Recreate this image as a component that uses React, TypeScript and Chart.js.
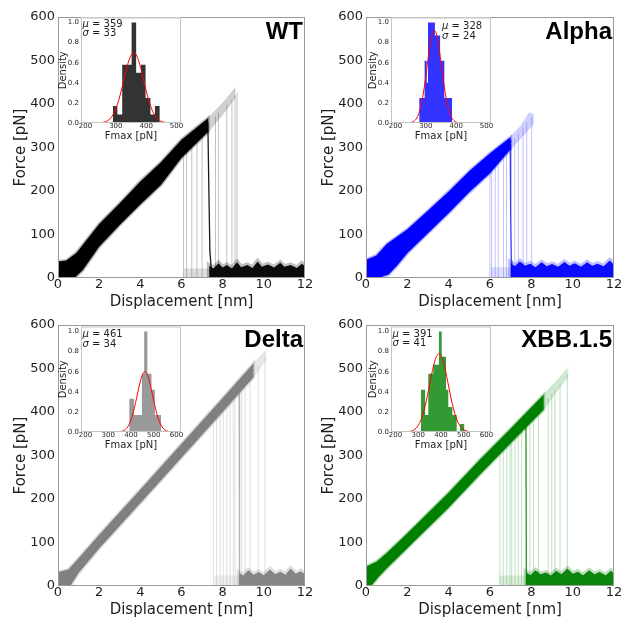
import React, { useEffect, useRef } from 'react';
import { Chart, registerables } from 'chart.js';

Chart.register(...registerables);

type P = [number, number];

// ---------- axes ----------
const X_TICKS = [0, 2, 4, 6, 8, 10, 12];
const Y_TICKS = [0, 100, 200, 300, 400, 500, 600];
const INSET_Y_TICKS = [0, 0.2, 0.4, 0.6, 0.8, 1.0];
const INSET_X_TICKS_500 = [200, 300, 400, 500];
const INSET_X_TICKS_600 = [200, 300, 400, 500, 600];
const FIT_X_500 = [200, 210, 220, 230, 240, 250, 260, 270, 280, 290, 300, 310, 320, 330, 340, 350, 360, 370, 380, 390, 400, 410, 420, 430, 440, 450, 460, 470, 480, 490, 500];
const FIT_X_600 = [200, 210, 220, 230, 240, 250, 260, 270, 280, 290, 300, 310, 320, 330, 340, 350, 360, 370, 380, 390, 400, 410, 420, 430, 440, 450, 460, 470, 480, 490, 500, 510, 520, 530, 540, 550, 560, 570, 580, 590, 600];

// ---------- WT ----------
const WT_BAND_TOP: P[] = [[0, 38], [0.4, 40], [0.9, 58], [2, 124], [3, 172], [4, 222], [5, 266], [6, 318], [7.3, 368]];
const WT_BAND_BOTTOM: P[] = [[0, 0], [0.8, 0], [1.2, 18], [2, 72], [3, 122], [4, 169], [5, 214], [6, 276], [7.3, 336]];
const WT_EXT_TOP: P[] = [[7.3, 368], [8.0, 402], [8.6, 436]];
const WT_EXT_BOTTOM: P[] = [[7.3, 336], [8.0, 376], [8.6, 414]];
const WT_RUPT_X = [6.1, 6.25, 6.5, 6.75, 7.0, 7.65, 7.8, 8.2, 8.45, 8.6, 8.7];
const WT_RUPT_F = [297, 305, 317, 329, 341, 372, 380, 398, 410, 420, 426];
const WT_DROP: P[] = [[7.28, 358], [7.33, 200], [7.38, 60], [7.45, 20]];
const WT_BASE_FAINT: P[] = [[6.1, 22], [12, 22]];
const WT_BASE_TOP: P[] = [[7.35, 28], [7.55, 22], [7.8, 34], [8.0, 24], [8.2, 30], [8.45, 22], [8.7, 36], [8.9, 25], [9.2, 30], [9.45, 23], [9.7, 38], [9.9, 26], [10.2, 31], [10.5, 24], [10.8, 35], [11.0, 26], [11.3, 30], [11.6, 23], [11.85, 33], [12, 27]];
const WT_HIST_EDGES = [290, 305, 321, 336, 352, 367, 383, 398, 414, 429, 445];
const WT_HIST_H = [0.17, 0.085, 0.58, 0.58, 1.0, 0.5, 0.58, 0.25, 0.085, 0.17];
const WT_FIT_Y = [0, 0, 0, 0, 0.001, 0.003, 0.008, 0.018, 0.040, 0.079, 0.142, 0.232, 0.348, 0.476, 0.593, 0.674, 0.700, 0.662, 0.572, 0.450, 0.323, 0.212, 0.127, 0.069, 0.035, 0.016, 0.007, 0.003, 0.001, 0, 0];

// ---------- Alpha ----------
const AL_BAND_TOP: P[] = [[0, 42], [0.5, 52], [1, 78], [2, 112], [3, 155], [4, 199], [5, 246], [6, 287], [7, 324]];
const AL_BAND_BOTTOM: P[] = [[0, 0], [0.6, 0], [1.1, 8], [1.5, 28], [2, 57], [3, 103], [4, 149], [5, 197], [6, 241], [7, 296]];
const AL_EXT_TOP: P[] = [[7, 324], [7.5, 350], [7.9, 380], [8.1, 376]];
const AL_EXT_BOTTOM: P[] = [[7, 296], [7.5, 322], [8.1, 354]];
const AL_RUPT_X = [6.0, 6.08, 6.25, 6.4, 6.65, 6.8, 7.2, 7.37, 7.6, 7.78, 8.02];
const AL_RUPT_F = [264, 268, 276, 283, 295, 302, 322, 332, 346, 358, 370];
const AL_DROP: P[] = [[6.98, 318], [7.0, 150], [7.03, 40], [7.06, 15]];
const AL_BASE_FAINT: P[] = [[6.05, 25], [12, 25]];
const AL_BASE_TOP: P[] = [[7.0, 34], [7.2, 27], [7.45, 38], [7.7, 28], [7.95, 33], [8.2, 25], [8.5, 36], [8.75, 27], [9.0, 32], [9.3, 26], [9.6, 37], [9.85, 28], [10.1, 34], [10.4, 26], [10.7, 36], [10.95, 28], [11.2, 33], [11.5, 27], [11.8, 40], [12, 30]];
const AL_HIST_EDGES = [278, 296, 303, 307, 330, 347, 361, 387];
const AL_HIST_H = [0.25, 0.62, 0.4, 1.0, 0.87, 0.62, 0.25];
const AL_FIT_Y = [0, 0, 0, 0, 0.001, 0.005, 0.017, 0.050, 0.125, 0.263, 0.466, 0.695, 0.870, 0.917, 0.812, 0.605, 0.378, 0.199, 0.088, 0.033, 0.010, 0.003, 0.001, 0, 0, 0, 0, 0, 0, 0, 0];

// ---------- Delta ----------
const DL_BAND_TOP: P[] = [[0, 32], [0.5, 38], [1, 64], [2, 118], [4, 222], [6, 327], [8, 432], [9.5, 512]];
const DL_BAND_BOTTOM: P[] = [[0, 0], [0.6, 0], [1, 30], [2, 86], [4, 190], [6, 295], [8, 400], [9.5, 480]];
const DL_EXT_TOP: P[] = [[9.5, 512], [10.1, 542]];
const DL_EXT_BOTTOM: P[] = [[9.5, 480], [10.1, 520]];
const DL_RUPT_X = [7.55, 7.7, 7.87, 8.03, 8.2, 8.36, 8.52, 8.6, 8.93, 9.09, 9.33, 9.73, 10.06];
const DL_RUPT_F = [393, 401, 410, 418, 427, 436, 444, 448, 466, 474, 487, 508, 525];
const DL_DROP: P[] = [[8.8, 455], [8.82, 0]];
const DL_BASE_FAINT: P[] = [[7.6, 24], [12, 24]];
const DL_BASE_TOP: P[] = [[8.8, 30], [9.0, 24], [9.25, 36], [9.5, 26], [9.75, 32], [10.0, 25], [10.3, 38], [10.55, 27], [10.8, 33], [11.05, 26], [11.3, 40], [11.55, 28], [11.8, 34], [12, 27]];
const DL_HIST_EDGES = [392, 413, 448, 458, 472, 490, 505, 532];
const DL_HIST_H = [0.33, 0.17, 0.58, 1.0, 0.58, 0.42, 0.17];
const DL_FIT_Y = [0, 0, 0, 0, 0, 0, 0, 0, 0, 0, 0, 0, 0, 0, 0, 0.003, 0.007, 0.017, 0.035, 0.068, 0.120, 0.195, 0.290, 0.396, 0.496, 0.569, 0.600, 0.579, 0.513, 0.417, 0.311, 0.212, 0.133, 0.077, 0.040, 0.019, 0.009, 0.004, 0.001, 0, 0];

// ---------- XBB.1.5 ----------
const XB_BAND_TOP: P[] = [[0, 45], [0.5, 56], [1, 76], [2, 121], [4, 215], [5.5, 290], [7, 362], [8.6, 440]];
const XB_BAND_BOTTOM: P[] = [[0, 0], [0.25, 0], [0.6, 20], [1, 40], [2, 87], [4, 180], [5.5, 255], [7, 328], [8.6, 405]];
const XB_EXT_TOP: P[] = [[8.6, 440], [9.2, 470], [9.75, 500]];
const XB_EXT_BOTTOM: P[] = [[8.6, 405], [9.2, 446], [9.75, 480]];
const XB_RUPT_X = [6.48, 6.64, 6.81, 6.97, 7.05, 7.21, 7.37, 7.53, 7.93, 8.1, 8.34, 8.82, 8.99, 9.14, 9.39, 9.74];
const XB_RUPT_F = [319, 327, 335, 343, 346, 354, 362, 369, 389, 397, 408, 433, 442, 450, 464, 488];
const XB_DROP: P[] = [[7.74, 372], [7.76, 0]];
const XB_BASE_FAINT: P[] = [[6.45, 24], [12, 24]];
const XB_BASE_TOP: P[] = [[7.75, 32], [7.95, 25], [8.2, 36], [8.45, 27], [8.7, 31], [8.95, 24], [9.2, 35], [9.45, 27], [9.75, 40], [10.0, 28], [10.25, 33], [10.5, 25], [10.8, 36], [11.05, 27], [11.3, 32], [11.6, 25], [11.85, 35], [12, 28]];
const XB_HIST_EDGES = [312, 330, 344, 366, 391, 403, 422, 432, 450, 469, 484, 503];
const XB_HIST_H = [0.42, 0.17, 0.58, 0.67, 1.0, 0.75, 0.42, 0.25, 0.17, 0, 0.08];
const XB_FIT_Y = [0, 0, 0, 0, 0, 0.002, 0.005, 0.010, 0.020, 0.038, 0.066, 0.111, 0.174, 0.258, 0.360, 0.473, 0.586, 0.684, 0.752, 0.780, 0.761, 0.700, 0.607, 0.496, 0.382, 0.277, 0.189, 0.122, 0.074, 0.042, 0.023, 0.012, 0.006, 0.003, 0.001, 0, 0, 0, 0, 0, 0];

const FONT = 'DejaVu Sans';
const TEXT = '#1e1e1e';

const pts = (a: P[]) => a.map(([x, y]) => ({ x, y }));
const polygon = (top: P[], bottom: P[]) => [...pts(top), ...pts(bottom).reverse()];
const toZero = (top: P[]) => [{ x: top[0][0], y: 0 }, ...pts(top), { x: top[top.length - 1][0], y: 0 }];
const ruptures = (xs: number[], fs: number[]) => {
  const out: any[] = [];
  xs.forEach((x, i) => { out.push({ x, y: fs[i] }, { x, y: 0 }, { x, y: null }); });
  return out;
};
const histSteps = (edges: number[], h: number[]) => {
  const out = h.map((v, i) => ({ x: edges[i], y: v }));
  out.push({ x: edges[edges.length - 1], y: 0 });
  return out;
};
const curve = (xs: number[], ys: number[]) => xs.map((x, i) => ({ x, y: ys[i] }));
const rgba = (c: number[], a: number) => `rgba(${c[0]},${c[1]},${c[2]},${a})`;
const CLEAR = 'rgba(0,0,0,0)';

const PANELS = [
  { name: 'WT', plotLeft: 58, plotTop: 17, plotW: 247, color: [0, 0, 0], dropAlpha: 0.9, bandTop: WT_BAND_TOP, bandBottom: WT_BAND_BOTTOM, extTop: WT_EXT_TOP, extBottom: WT_EXT_BOTTOM, ruptX: WT_RUPT_X, ruptF: WT_RUPT_F, drop: WT_DROP, baseFaint: WT_BASE_FAINT, baseTop: WT_BASE_TOP, edges: WT_HIST_EDGES, heights: WT_HIST_H, histColor: '#333333', fitX: FIT_X_500, fitY: WT_FIT_Y, xMin: 185, xMax: 515, xTicks: INSET_X_TICKS_500, mu: 359, sigma: 33, insetDx: 23, insetDy: 0, statsDx: 1.5, statsDy: 6.5 },
  { name: 'Alpha', plotLeft: 366, plotTop: 17, plotW: 248, color: [0, 0, 255], dropAlpha: 0.8, bandTop: AL_BAND_TOP, bandBottom: AL_BAND_BOTTOM, extTop: AL_EXT_TOP, extBottom: AL_EXT_BOTTOM, ruptX: AL_RUPT_X, ruptF: AL_RUPT_F, drop: AL_DROP, baseFaint: AL_BASE_FAINT, baseTop: AL_BASE_TOP, edges: AL_HIST_EDGES, heights: AL_HIST_H, histColor: '#3333ff', fitX: FIT_X_500, fitY: AL_FIT_Y, xMin: 185, xMax: 515, xTicks: INSET_X_TICKS_500, mu: 328, sigma: 24, insetDx: 25, insetDy: 0, statsDx: 51, statsDy: 9 },
  { name: 'Delta', plotLeft: 58, plotTop: 325, plotW: 247, color: [128, 128, 128], dropAlpha: 0.6, bandTop: DL_BAND_TOP, bandBottom: DL_BAND_BOTTOM, extTop: DL_EXT_TOP, extBottom: DL_EXT_BOTTOM, ruptX: DL_RUPT_X, ruptF: DL_RUPT_F, drop: DL_DROP, baseFaint: DL_BASE_FAINT, baseTop: DL_BASE_TOP, edges: DL_HIST_EDGES, heights: DL_HIST_H, histColor: '#999999', fitX: FIT_X_600, fitY: DL_FIT_Y, xMin: 180, xMax: 620, xTicks: INSET_X_TICKS_600, mu: 461, sigma: 34, insetDx: 23, insetDy: 1, statsDx: 1.5, statsDy: 8 },
  { name: 'XBB.1.5', plotLeft: 366, plotTop: 325, plotW: 248, color: [0, 128, 0], dropAlpha: 0.85, bandTop: XB_BAND_TOP, bandBottom: XB_BAND_BOTTOM, extTop: XB_EXT_TOP, extBottom: XB_EXT_BOTTOM, ruptX: XB_RUPT_X, ruptF: XB_RUPT_F, drop: XB_DROP, baseFaint: XB_BASE_FAINT, baseTop: XB_BASE_TOP, edges: XB_HIST_EDGES, heights: XB_HIST_H, histColor: '#339933', fitX: FIT_X_600, fitY: XB_FIT_Y, xMin: 180, xMax: 620, xTicks: INSET_X_TICKS_600, mu: 391, sigma: 41, insetDx: 25, insetDy: 1, statsDx: 1.5, statsDy: 7.5 },
];

const PLOT_H = 261;
const Y_AXIS_W = 55;
const X_AXIS_H = 33;
const RIGHT_PAD = 16;
const INSET_W = 100;
const INSET_H = 106;
const INSET_YAX = 26;
const INSET_XAX = 22;
const INSET_TOP_PAD = 5;
const INSET_RIGHT_PAD = 8;

function mainConfig(p: any): any {
  const c = p.color;
  const datasets = [
    { data: pts(p.drop), borderColor: rgba(c, p.dropAlpha), borderWidth: 1.3, fill: false, order: 0 },
    { data: polygon(p.bandTop, p.bandBottom), backgroundColor: rgba(c, 1), borderColor: rgba(c, 0.28), borderWidth: 3, fill: 'shape', order: 1 },
    { data: toZero(p.baseTop), backgroundColor: rgba(c, 0.95), borderColor: rgba(c, 0.25), borderWidth: 5, fill: 'shape', order: 2 },
    { data: ruptures(p.ruptX, p.ruptF), borderColor: rgba(c, 0.09), borderWidth: 1, fill: false, order: 3 },
    { data: polygon(p.extTop, p.extBottom), backgroundColor: rgba(c, 0.18), borderColor: rgba(c, 0.06), borderWidth: 2, fill: 'shape', order: 4 },
    { data: toZero(p.baseFaint), backgroundColor: rgba(c, 0.13), borderColor: CLEAR, borderWidth: 0, fill: 'shape', order: 5 },
  ].map((d) => ({ pointRadius: 0, tension: 0, ...d }));

  const deco = {
    id: 'deco',
    afterDraw(chart: any) {
      const { ctx, chartArea: a } = chart;
      ctx.save();
      ctx.strokeStyle = '#9a9a9a';
      ctx.lineWidth = 1;
      ctx.strokeRect(a.left + 0.5, a.top + 0.5, a.right - a.left - 1, a.bottom - a.top - 1);
      ctx.fillStyle = '#000';
      ctx.font = 'bold 24px "Liberation Sans"';
      ctx.textAlign = 'right';
      ctx.textBaseline = 'alphabetic';
      ctx.fillText(p.name, a.right - 2, a.top + 21.5);
      ctx.restore();
    },
  };

  return {
    type: 'line',
    data: { datasets },
    plugins: [deco],
    options: {
      responsive: false,
      animation: false,
      events: [],
      layout: { padding: { left: 0, top: 17, right: RIGHT_PAD, bottom: 0 } },
      plugins: { legend: { display: false }, tooltip: { enabled: false } },
      scales: {
        x: {
          type: 'linear', min: 0, max: 12,
          afterBuildTicks: (s: any) => { s.ticks = X_TICKS.map((v) => ({ value: v })); },
          afterFit: (s: any) => { s.height = X_AXIS_H; },
          grid: { display: false, drawTicks: false, tickLength: 0 },
          border: { display: false },
          ticks: { font: { family: FONT, size: 13, lineHeight: 1 }, color: TEXT, padding: 0, maxRotation: 0, autoSkip: false, callback: (v: any) => String(v) },
          title: { display: true, text: 'Displacement [nm]', font: { family: FONT, size: 15, lineHeight: 1.2 }, color: TEXT, padding: 0 },
        },
        y: {
          type: 'linear', min: 0, max: 600,
          afterBuildTicks: (s: any) => { s.ticks = Y_TICKS.map((v) => ({ value: v })); },
          afterFit: (s: any) => { s.width = Y_AXIS_W; },
          grid: { display: false, drawTicks: false, tickLength: 0 },
          border: { display: false },
          ticks: { font: { family: FONT, size: 13, lineHeight: 1 }, color: TEXT, padding: 3, autoSkip: false, callback: (v: any) => String(v) },
          title: { display: true, text: 'Force [pN]', font: { family: FONT, size: 15, lineHeight: 1.2 }, color: TEXT, padding: { top: 9, bottom: 0 } },
        },
      },
    },
  };
}

function insetConfig(p: any): any {
  const deco = {
    id: 'insetDeco',
    beforeDraw(chart: any) {
      const { ctx, chartArea: a } = chart;
      ctx.save();
      ctx.fillStyle = '#ffffff';
      ctx.fillRect(a.left, a.top, a.right - a.left, a.bottom - a.top);
      ctx.restore();
    },
    afterDraw(chart: any) {
      const { ctx, chartArea: a } = chart;
      ctx.save();
      ctx.strokeStyle = '#c4c4c4';
      ctx.lineWidth = 1;
      ctx.strokeRect(a.left + 0.5, a.top + 0.5, a.right - a.left - 1, a.bottom - a.top - 1);
      ctx.fillStyle = TEXT;
      ctx.textAlign = 'left';
      ctx.textBaseline = 'middle';
      const x = a.left + p.statsDx;
      const y = a.top + p.statsDy;
      const line = (sym: string, rest: string, yy: number) => {
        ctx.font = `italic 10px "${FONT}"`;
        ctx.fillText(sym, x, yy);
        const w = ctx.measureText(sym).width;
        ctx.font = `10px "${FONT}"`;
        ctx.fillText(rest, x + w, yy);
      };
      line('μ', ' = ' + p.mu, y);
      line('σ', ' = ' + p.sigma, y + 9.6);
      ctx.restore();
    },
  };
  return {
    type: 'line',
    data: {
      datasets: [
        { data: curve(p.fitX, p.fitY), borderColor: '#ff0000', borderWidth: 1, fill: false, cubicInterpolationMode: 'monotone', pointRadius: 0, order: 0 },
        { data: histSteps(p.edges, p.heights), backgroundColor: p.histColor, borderColor: CLEAR, borderWidth: 0, fill: 'origin', stepped: 'before', pointRadius: 0, order: 1 },
      ],
    },
    plugins: [deco],
    options: {
      responsive: false,
      animation: false,
      events: [],
      layout: { padding: { left: 0, top: INSET_TOP_PAD, right: INSET_RIGHT_PAD, bottom: 0 } },
      plugins: { legend: { display: false }, tooltip: { enabled: false } },
      scales: {
        x: {
          type: 'linear', min: p.xMin, max: p.xMax,
          afterBuildTicks: (s: any) => { s.ticks = p.xTicks.map((v: number) => ({ value: v })); },
          afterFit: (s: any) => { s.height = INSET_XAX; },
          grid: { display: false, drawTicks: false, tickLength: 0 },
          border: { display: false },
          ticks: { font: { family: FONT, size: 7, lineHeight: 1 }, color: TEXT, padding: 0, maxRotation: 0, autoSkip: false, callback: (v: any) => String(v) },
          title: { display: true, text: 'Fmax [pN]', font: { family: FONT, size: 10, lineHeight: 1.2 }, color: TEXT, padding: { top: 0, bottom: 3 } },
        },
        y: {
          type: 'linear', min: 0, max: 1.05,
          afterBuildTicks: (s: any) => { s.ticks = INSET_Y_TICKS.map((v) => ({ value: v })); },
          afterFit: (s: any) => { s.width = INSET_YAX; },
          grid: { display: false, drawTicks: false, tickLength: 0 },
          border: { display: false },
          ticks: { font: { family: FONT, size: 7, lineHeight: 1 }, color: TEXT, padding: 2, autoSkip: false, callback: (v: any) => Number(v).toFixed(1) },
          title: { display: true, text: 'Density', font: { family: FONT, size: 10, lineHeight: 1.2 }, color: TEXT, padding: { top: 2, bottom: 0 } },
        },
      },
    },
  };
}

function ChartBox({ left, top, width, height, make }: { left: number; top: number; width: number; height: number; make: () => any }) {
  const ref = useRef<HTMLCanvasElement>(null);
  useEffect(() => {
    const chart = new Chart(ref.current as HTMLCanvasElement, make());
    return () => chart.destroy();
  }, []);
  return (
    <canvas ref={ref} width={width} height={height} style={{ position: 'absolute', left, top, width, height, display: 'block' }} />
  );
}

export default function App() {
  return (
    <div style={{ position: 'fixed', left: 0, top: 0, width: 622, height: 618, background: '#ffffff', overflow: 'hidden' }}>
      {PANELS.map((p) => (
        <ChartBox
          key={'m' + p.name}
          left={p.plotLeft - Y_AXIS_W}
          top={p.plotTop - 17}
          width={Y_AXIS_W + p.plotW + RIGHT_PAD}
          height={17 + PLOT_H + X_AXIS_H}
          make={() => mainConfig(p)}
        />
      ))}
      {PANELS.map((p) => (
        <ChartBox
          key={'i' + p.name}
          left={p.plotLeft + p.insetDx - INSET_YAX}
          top={p.plotTop + p.insetDy - INSET_TOP_PAD}
          width={INSET_YAX + INSET_W + INSET_RIGHT_PAD}
          height={INSET_TOP_PAD + INSET_H + INSET_XAX}
          make={() => insetConfig(p)}
        />
      ))}
    </div>
  );
}
